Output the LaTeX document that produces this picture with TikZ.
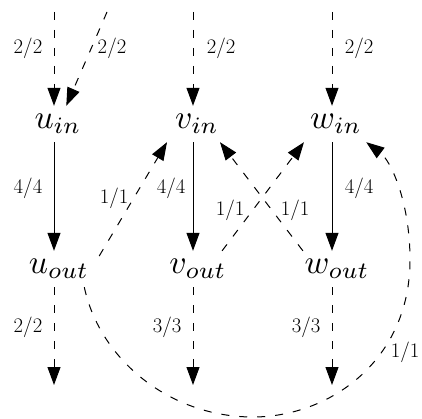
\documentclass[tikz,border=0pt]{standalone}
\usepackage{graphicx}
\usetikzlibrary{arrows.meta}
\newcommand{\vlabel}[1]{\scalebox{3.35}{$#1$}}
\begin{document}
\begin{tikzpicture}[x=1pt,y=-1pt,
  vertex/.style={minimum width=90pt, minimum height=36pt, inner sep=0pt,
                 font=\fontsize{10}{12}\selectfont},
  flow/.style={line width=1pt, -{Triangle[length=18pt,width=13pt]}},
  spare/.style={flow, dash pattern=on 8pt off 10pt},
  amount/.style={font=\fontsize{20.7}{25}\selectfont, inner sep=0pt}
]
\useasboundingbox (0,0) rectangle (422,419);

% split vertices
\node[vertex] (uin)  at (54,124) {\hspace{8pt}\vlabel{u_{in}}};
\node[vertex] (vin)  at (193,124) {\hspace{8pt}\vlabel{v_{in}}};
\node[vertex] (win)  at (332,124) {\hspace{8pt}\vlabel{w_{in}}};
\node[vertex] (uout) at (54,269) {\hspace{10pt}\vlabel{u_{out}}};
\node[vertex] (vout) at (193,269) {\hspace{10pt}\vlabel{v_{out}}};
\node[vertex] (wout) at (332,269) {\hspace{10pt}\vlabel{w_{out}}};

% open ends
\coordinate (usrc) at (54,12);
\coordinate (xsrc) at (107,12);
\coordinate (vsrc) at (193,12);
\coordinate (wsrc) at (332,12);
\coordinate (usnk) at (54,385);
\coordinate (vsnk) at (193,385);
\coordinate (wsnk) at (332,385);

% incoming edges
\draw[spare] (usrc) -- (uin.north);
\draw[spare] (xsrc) -- (uin.56);
\draw[spare] (vsrc) -- (vin.north);
\draw[spare] (wsrc) -- (win.north);

% internal edges
\draw[flow] (uin.south) -- (uout.north);
\draw[flow] (vin.south) -- (vout.north);
\draw[flow] (win.south) -- (wout.north);

% cross edges
\draw[spare] (uout.16) -- (vin.215);
\draw[spare] (vout.32) -- (win.213);
\draw[spare] (wout.148) -- (vin.326);
\draw[spare] (uout.329) .. controls (100,360) and (170,417) .. (253,417)
                        .. controls (330,417) and (410,360) .. (410,260)
                        .. controls (410,200) and (390,160) .. (win.332);

% outgoing edges
\draw[spare] (uout.south) -- (usnk);
\draw[spare] (vout.south) -- (vsnk);
\draw[spare] (wout.south) -- (wsnk);

% flow / capacity labels
\node[amount] (l1)  at (28,48)   {2/2};
\node[amount] (l2)  at (112,48)  {2/2};
\node[amount] (l3)  at (221,48)  {2/2};
\node[amount] (l4)  at (359,48)  {2/2};
\node[amount] (l5)  at (28,188)  {4/4};
\node[amount] (l6)  at (171,188) {4/4};
\node[amount] (l7)  at (359,188) {4/4};
\node[amount] (l8)  at (114,198) {1/1};
\node[amount] (l9)  at (230,210) {1/1};
\node[amount] (l10) at (295,210) {1/1};
\node[amount] (l11) at (405,352) {1/1};
\node[amount] (l12) at (28,327)  {2/2};
\node[amount] (l13) at (167,327) {3/3};
\node[amount] (l14) at (306,327) {3/3};
\end{tikzpicture}
\end{document}
